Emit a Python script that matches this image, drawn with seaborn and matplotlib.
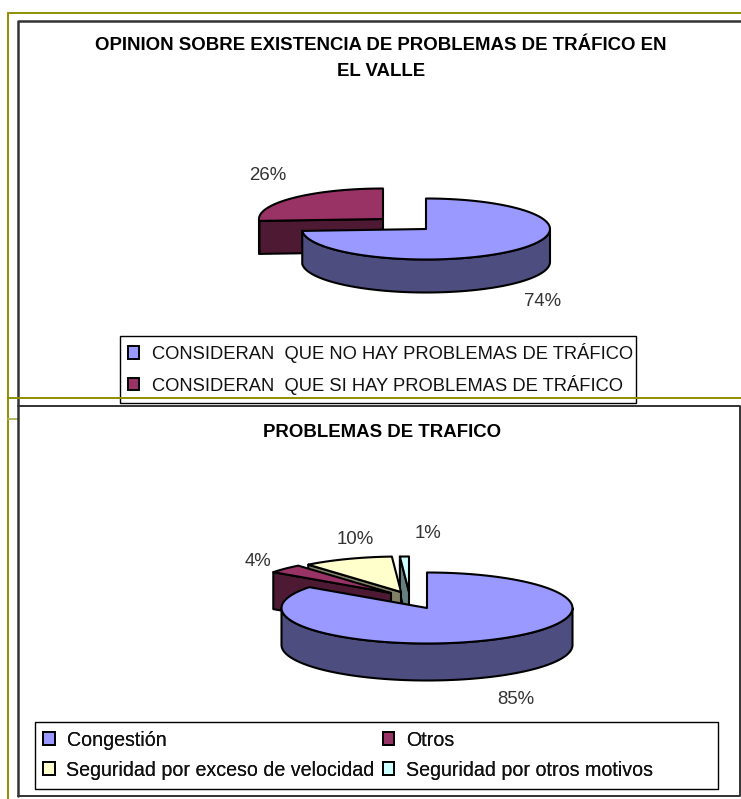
import numpy as np
import matplotlib
matplotlib.use("Agg")
import matplotlib.pyplot as plt
from matplotlib.patches import Polygon, Patch, Rectangle
import seaborn as sns

# values
opinion_labels = ["CONSIDERAN  QUE NO HAY PROBLEMAS DE TRÁFICO",
                  "CONSIDERAN  QUE SI HAY PROBLEMAS DE TRÁFICO"]
opinion_values = [74, 26]
problem_labels = ["Congestión", "Otros",
                  "Seguridad por exceso de velocidad",
                  "Seguridad por otros motivos"]
problem_values = [85, 4, 10, 1]

title_top = "OPINION SOBRE EXISTENCIA DE PROBLEMAS DE TRÁFICO EN\nEL VALLE"
title_bottom = "PROBLEMAS DE TRAFICO"

tops = sns.color_palette(["#9999FF", "#993366", "#FFFFCC", "#CCFFFF"])
sides = sns.color_palette(["#4D4D80", "#4D1933", "#808066", "#668080"])

sns.set_theme(style="white")
plt.rcParams["font.family"] = ["Liberation Sans", "DejaVu Sans"]

W, H = 741, 799
fig = plt.figure(figsize=(W / 100, H / 100), dpi=100)
ax = fig.add_axes([0, 0, 1, 1])
ax.set_xlim(0, W)
ax.set_ylim(H, 0)
ax.axis("off")


def rim_xy(apex, rx, ry, th):
    # th in degrees, clockwise from 12 o'clock
    th = np.radians(th)
    return apex[0] + rx * np.sin(th), apex[1] - ry * np.cos(th)


def draw_slice(apex, start, end, top, side, rx, ry, depth):
    outline = dict(edgecolor="black", linewidth=1.5, joinstyle="round")
    # cut faces, only the ones turned to the viewer
    for th, seen in ((start, np.sin(np.radians(start)) < -1e-6),
                     (end, np.sin(np.radians(end)) > 1e-6)):
        if seen:
            x, y = rim_xy(apex, rx, ry, th)
            ax.add_patch(Polygon([apex, (x, y), (x, y + depth),
                                  (apex[0], apex[1] + depth)],
                                 facecolor=side, **outline))
    # outer wall, front half only
    lo, hi = max(start, 90), min(end, 270)
    if hi > lo:
        t = np.linspace(lo, hi, 80)
        x, y = rim_xy(apex, rx, ry, t)
        ax.add_patch(Polygon(np.r_[np.c_[x, y], np.c_[x, y + depth][::-1]],
                             facecolor=side, **outline))
    t = np.linspace(start, end, 120)
    x, y = rim_xy(apex, rx, ry, t)
    ax.add_patch(Polygon(np.r_[[apex], np.c_[x, y]], facecolor=top, **outline))


def draw_pie(values, apexes, order, rx, ry, depth):
    edges = np.r_[0, np.cumsum(values)] / np.sum(values) * 360
    for i in order:
        draw_slice(apexes[i], edges[i], edges[i + 1], tops[i], sides[i],
                   rx, ry, depth)


def draw_legend(handles, frame, corner, fontsize, **kw):
    x0, y0, x1, y1 = frame
    ax.add_patch(Rectangle((x0, y0), x1 - x0, y1 - y0, facecolor="white",
                           edgecolor="black", linewidth=1.0, zorder=3))
    leg = ax.legend(handles=handles, loc="upper left", bbox_to_anchor=corner,
                    bbox_transform=ax.transData, fontsize=fontsize, frameon=False,
                    borderaxespad=0, borderpad=0, handlelength=0.6,
                    handleheight=0.65, labelcolor="#111111", **kw)
    leg.set_zorder(4)
    for h in leg.get_patches():
        h.set_linewidth(1.4)
    ax.add_artist(leg)


# frame lines of the slide behind the charts
olive = "#8F8F00"
ax.plot([8, 741], [13, 13], color=olive, lw=1.4)
ax.plot([8, 8], [13, 799], color=olive, lw=1.4)
ax.plot([8, 18], [419, 419], color="#B5B55A", lw=1.4)

dark = "#333333"
ax.plot([18, 18, 741], [796, 21, 21], color=dark, lw=1.8)
ax.plot([18, 739.5, 739.5, 18], [406, 406, 796, 796], color=dark, lw=1.4)

draw_pie(opinion_values, [(426, 229), (383, 219)], [1, 0], 124, 30.5, 33)
draw_pie(problem_values, [(427, 608), (391, 593), (401, 592), (409, 592)],
         [3, 2, 1, 0], 145.5, 35.5, 37)

ax.text(381, 58.5, title_top, ha="center", va="center", fontsize=13.4,
        fontweight="bold", color="black", linespacing=1.62)
ax.text(382.5, 432.5, title_bottom, ha="center", va="center", fontsize=13.4,
        fontweight="bold", color="black")

# percent labels
for v, (x, y) in zip(opinion_values, [(542.5, 301), (267.5, 175.5)]):
    ax.text(x, y, f"{v}%", ha="center", va="center", fontsize=13.4, color="#333333")
for v, (x, y) in zip(problem_values, [(516, 699), (258, 562), (355, 539), (428, 534)]):
    ax.text(x, y, f"{v}%", ha="center", va="center", fontsize=13.4, color="#333333")

# legends
handles = [Patch(facecolor=tops[i], edgecolor="black", label=opinion_labels[i])
           for i in range(2)]
draw_legend(handles, (120, 335.5, 635.5, 403), (128, 343), 13.2,
            labelspacing=0.63, handletextpad=0.7)

order = [0, 2, 1, 3]
handles = [Patch(facecolor=tops[i], edgecolor="black", label=problem_labels[i])
           for i in order]
draw_legend(handles, (35, 721.5, 718, 789), (43, 730.5), 14.1, ncol=2,
            labelspacing=0.57, columnspacing=0.4, handletextpad=0.6)

# olive line crossing over the first legend
ax.plot([8, 741], [398, 398], color=olive, lw=1.4, zorder=10)

fig.savefig("out.png", dpi=100)
